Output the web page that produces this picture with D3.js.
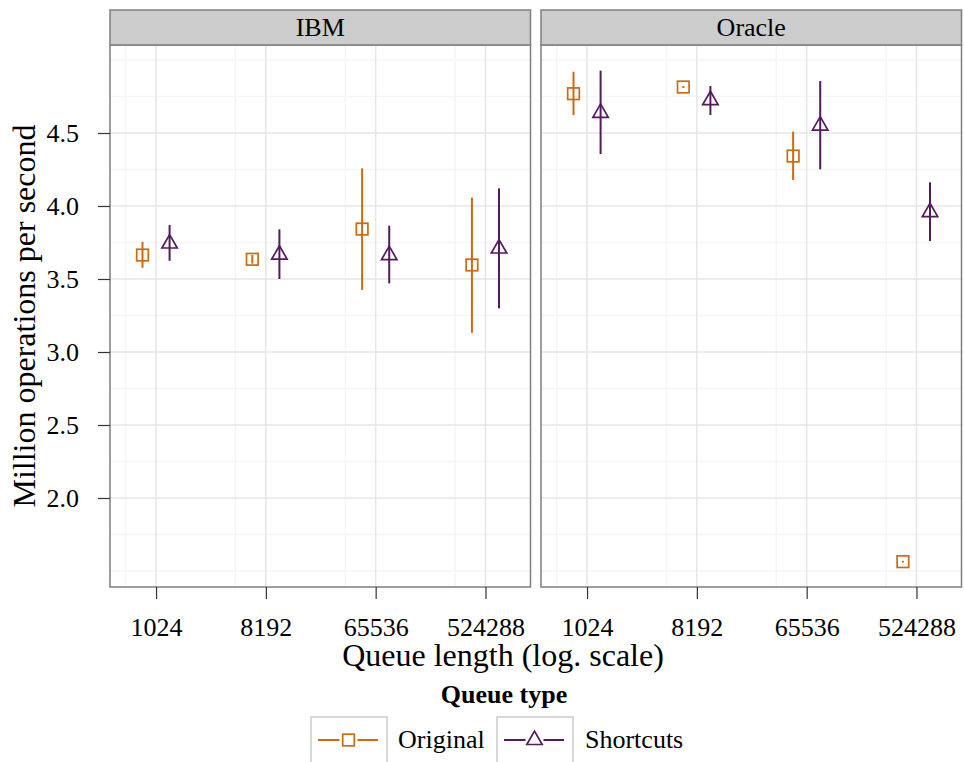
<!DOCTYPE html>
<html>
<head>
<meta charset="utf-8">
<script src="https://cdn.jsdelivr.net/npm/d3@7"></script>
<style>
  body { margin: 0; background: #fff; }
  svg text { font-family: "Liberation Serif", "DejaVu Serif", serif; fill: #000; }
</style>
</head>
<body>
<div id="chart"></div>
<script>
// data (million ops / s), one value per queue length
var facets = ["IBM", "Oracle"];
var queueTypes = ["Original", "Shortcuts"];
var queueLengths = [1024, 8192, 65536, 524288];
var yTicks = [2.0, 2.5, 3.0, 3.5, 4.0, 4.5];

var ibmOriginalMean  = [3.664, 3.635, 3.842, 3.596];
var ibmOriginalLow   = [3.577, 3.605, 3.425, 3.132];
var ibmOriginalHigh  = [3.755, 3.665, 4.258, 4.057];
var ibmShortcutsMean = [3.743, 3.667, 3.664, 3.709];
var ibmShortcutsLow  = [3.625, 3.500, 3.470, 3.299];
var ibmShortcutsHigh = [3.870, 3.840, 3.865, 4.121];

var oracleOriginalMean  = [4.769, 4.815, 4.342, 1.564];
var oracleOriginalLow   = [4.623, 4.808, 4.178, 1.558];
var oracleOriginalHigh  = [4.920, 4.822, 4.509, 1.570];
var oracleShortcutsMean = [4.638, 4.725, 4.551, 3.958];
var oracleShortcutsLow  = [4.356, 4.623, 4.251, 3.760];
var oracleShortcutsHigh = [4.927, 4.822, 4.856, 4.162];

var colors = {"Original": "#cc6a10", "Shortcuts": "#531b5e"};

function rows(facet, type, mean, lo, hi) {
  return queueLengths.map(function(q, i) {
    return {facet: facet, type: type, q: q, mean: mean[i], lo: lo[i], hi: hi[i]};
  });
}
var data = [].concat(
  rows("IBM", "Original", ibmOriginalMean, ibmOriginalLow, ibmOriginalHigh),
  rows("IBM", "Shortcuts", ibmShortcutsMean, ibmShortcutsLow, ibmShortcutsHigh),
  rows("Oracle", "Original", oracleOriginalMean, oracleOriginalLow, oracleOriginalHigh),
  rows("Oracle", "Shortcuts", oracleShortcutsMean, oracleShortcutsLow, oracleShortcutsHigh)
);

var W = 964, H = 762;
var panelLeft = [110, 541], panelW = 420.5;
var plotTop = 45, plotBottom = 587, stripTop = 10;

var svg = d3.select("#chart").append("svg")
    .attr("width", W).attr("height", H);

var y = d3.scaleLinear()
    .domain([1.3904, 5.1027])
    .range([plotBottom, plotTop]);

// minor breaks in ggplot style
var yMinor = [1.5, 1.75, 2.25, 2.75, 3.25, 3.75, 4.25, 4.75, 5.0];
var xMinor = queueLengths.map(function(q) { return (q + q / 8) / 2; });
var dodge = 0.37; // log2 units

var triangle = "M0,-8.9L7.7,4.5L-7.7,4.5Z";

function marker(sel, type) {
  if (type == "Original") {
    sel.append("rect")
      .attr("x", -5.8).attr("y", -5.8)
      .attr("width", 11.6).attr("height", 11.6)
      .attr("fill", "none")
      .attr("stroke", colors[type])
      .attr("stroke-width", 1.7);
  } else {
    sel.append("path")
      .attr("d", triangle)
      .attr("fill", "none")
      .attr("stroke", colors[type])
      .attr("stroke-width", 1.7);
  }
}

facets.forEach(function(facet, fi) {
  var x0 = panelLeft[fi];
  var x = d3.scaleLog().base(2)
      .domain([Math.pow(2, 8.742), Math.pow(2, 20.23)])
      .range([x0, x0 + panelW]);

  var g = svg.append("g");

  g.append("rect")
    .attr("x", x0).attr("y", plotTop)
    .attr("width", panelW).attr("height", plotBottom - plotTop)
    .attr("fill", "#fff");

  // grid
  g.selectAll(".ymin").data(yMinor).enter().append("line")
    .attr("x1", x0).attr("x2", x0 + panelW)
    .attr("y1", function(d) { return y(d); })
    .attr("y2", function(d) { return y(d); })
    .attr("stroke", "#f5f5f5").attr("stroke-width", 1.5);
  g.selectAll(".xmin").data(xMinor).enter().append("line")
    .attr("y1", plotTop).attr("y2", plotBottom)
    .attr("x1", function(d) { return x(d); })
    .attr("x2", function(d) { return x(d); })
    .attr("stroke", "#f5f5f5").attr("stroke-width", 1.5);
  g.selectAll(".ymaj").data(yTicks).enter().append("line")
    .attr("x1", x0).attr("x2", x0 + panelW)
    .attr("y1", function(d) { return y(d); })
    .attr("y2", function(d) { return y(d); })
    .attr("stroke", "#e6e6e6").attr("stroke-width", 1.5);
  g.selectAll(".xmaj").data(queueLengths).enter().append("line")
    .attr("y1", plotTop).attr("y2", plotBottom)
    .attr("x1", function(d) { return x(d); })
    .attr("x2", function(d) { return x(d); })
    .attr("stroke", "#e6e6e6").attr("stroke-width", 1.5);

  var pts = data.filter(function(d) { return d.facet == facet; });
  function px(d) {
    return x(d.q * Math.pow(2, d.type == "Original" ? -dodge : dodge));
  }

  // error bars
  g.selectAll(".err").data(pts).enter().append("line")
    .attr("x1", px).attr("x2", px)
    .attr("y1", function(d) { return y(d.lo); })
    .attr("y2", function(d) { return y(d.hi); })
    .attr("stroke", function(d) { return colors[d.type]; })
    .attr("stroke-width", 2);

  g.selectAll(".pt").data(pts).enter().append("g")
    .attr("transform", function(d) { return "translate(" + px(d) + "," + y(d.mean) + ")"; })
    .each(function(d) { marker(d3.select(this), d.type); });

  // panel border
  g.append("rect")
    .attr("x", x0).attr("y", plotTop)
    .attr("width", panelW).attr("height", plotBottom - plotTop)
    .attr("fill", "none").attr("stroke", "#7f7f7f").attr("stroke-width", 1.5);

  // strip
  g.append("rect")
    .attr("x", x0).attr("y", stripTop)
    .attr("width", panelW).attr("height", plotTop - stripTop)
    .attr("fill", "#cccccc").attr("stroke", "#7f7f7f").attr("stroke-width", 1.5);
  g.append("text")
    .attr("x", x0 + panelW / 2).attr("y", 36)
    .attr("text-anchor", "middle")
    .attr("font-size", "26px")
    .text(facet);

  // x axis
  var xAxis = g.append("g")
    .attr("transform", "translate(0," + plotBottom + ")")
    .call(d3.axisBottom(x).tickValues(queueLengths).tickFormat(d3.format("d"))
      .tickSizeInner(12).tickSizeOuter(0).tickPadding(19));
  xAxis.select(".domain").remove();
  xAxis.selectAll("line").attr("stroke", "#333").attr("stroke-width", 1.2);
  xAxis.selectAll("text").attr("font-size", "26px")
    .attr("font-family", "Liberation Serif").attr("fill", "#000");

  if (fi == 0) {
    var yAxis = g.append("g")
      .attr("transform", "translate(" + x0 + ",0)")
      .call(d3.axisLeft(y).tickValues(yTicks).tickFormat(d3.format(".1f"))
        .tickSizeInner(12).tickSizeOuter(0).tickPadding(19));
    yAxis.select(".domain").remove();
    yAxis.selectAll("line").attr("stroke", "#333").attr("stroke-width", 1.2);
    yAxis.selectAll("text").attr("font-size", "26px")
      .attr("font-family", "Liberation Serif").attr("fill", "#000");
  }
});

// axis titles
svg.append("text")
  .attr("x", 503).attr("y", 666)
  .attr("text-anchor", "middle")
  .attr("font-size", "32px")
  .text("Queue length (log. scale)");

svg.append("text")
  .attr("transform", "translate(35," + (plotTop + plotBottom) / 2 + ") rotate(-90)")
  .attr("text-anchor", "middle")
  .attr("font-size", "32px")
  .text("Million operations per second");

// legend
svg.append("text")
  .attr("x", 504).attr("y", 703)
  .attr("text-anchor", "middle")
  .attr("font-size", "26px")
  .attr("font-weight", "bold")
  .text("Queue type");

var keyX = [311, 497], labelX = [398, 585];
var leg = svg.selectAll(".legend").data(queueTypes).enter().append("g")
  .attr("class", "legend");
leg.append("rect")
  .attr("x", function(d, i) { return keyX[i]; }).attr("y", 717)
  .attr("width", 76).attr("height", 47)
  .attr("fill", "#fff").attr("stroke", "#cccccc").attr("stroke-width", 1.5);
leg.append("line")
  .attr("x1", function(d, i) { return keyX[i] + 7; })
  .attr("x2", function(d, i) { return keyX[i] + 67; })
  .attr("y1", 740).attr("y2", 740)
  .attr("stroke", function(d) { return colors[d]; })
  .attr("stroke-width", 2);
leg.append("g")
  .attr("transform", function(d, i) { return "translate(" + (keyX[i] + 37.5) + ",740)"; })
  .each(function(d) {
    d3.select(this).append("rect")
      .attr("x", -9).attr("y", -9).attr("width", 18).attr("height", 18)
      .attr("fill", "#fff").attr("stroke", "none");
    marker(d3.select(this), d);
  });
leg.append("text")
  .attr("x", function(d, i) { return labelX[i]; })
  .attr("y", 748)
  .attr("font-size", "26px")
  .text(function(d) { return d; });
</script>
</body>
</html>
